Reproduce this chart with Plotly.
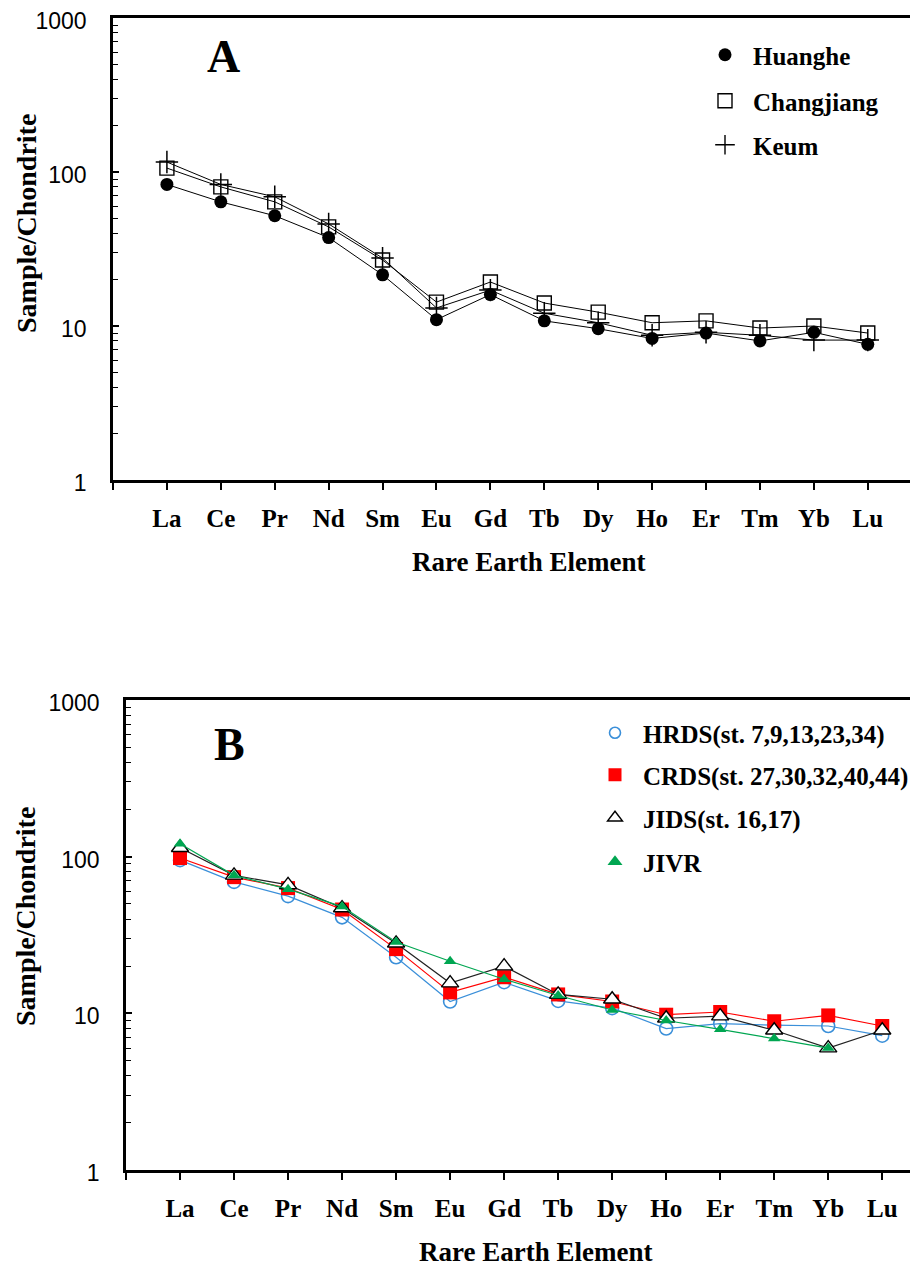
import plotly.graph_objects as go

elements = ["La", "Ce", "Pr", "Nd", "Sm", "Eu", "Gd", "Tb", "Dy", "Ho", "Er", "Tm", "Yb", "Lu"]

# Panel A
huanghe = [83, 64, 52, 37.5, 21.5, 11.0, 16.0, 10.8, 9.6, 8.3, 9.0, 8.0, 9.1, 7.6]
changjiang = [106, 80, 64, 44, 26.8, 14.3, 19.3, 14.1, 12.3, 10.5, 10.8, 9.7, 10.0, 9.0]
keum = [116, 83, 69, 46, 27.6, 13.1, 17.1, 12.1, 10.5, 8.7, 9.1, 8.7, 8.1, 8.1]

# Panel B
hrds = [95, 69, 56, 41, 22.8, 11.9, 15.8, 12.0, 10.8, 8.0, 8.6, 8.4, 8.3, 7.2]
crds = [98, 74, 63, 46, 25.7, 13.6, 17.0, 13.2, 11.9, 9.8, 10.2, 8.9, 9.7, 8.3]
jids = [114, 76, 66, 47, 28.0, 15.6, 20.0, 13.2, 12.3, 9.3, 9.6, 7.8, 6.0, 7.8]
jivr = [121, 76, 62, 48, 28.5, 21.5, 16.5, 13.0, 10.5, 9.0, 7.9, 6.9, 6.0, None]

ytickvals = [1, 10, 100, 1000]
yticktext = ["1", "10", "100", "1000"]
yminorvals = [m * d for d in (1, 10, 100) for m in range(2, 10)]

W, H = 918, 1269
OFF = 8  # page body margin offset
SERIF = "Liberation Serif"
SANS = "Liberation Sans"


def px(xp):
    return (xp - OFF) / W


def py(yp):
    return 1 - (yp - OFF) / H


xs = list(range(len(elements)))

fig = go.Figure()

BLUE = "#3A8FD9"
RED = "#FF0000"
GREEN = "#00A651"

# ---- Panel A traces ----
fig.add_trace(go.Scatter(x=xs, y=changjiang, mode="lines+markers", showlegend=False,
                         line=dict(color="black", width=1),
                         marker=dict(symbol="square-open", size=14, color="black", line=dict(width=1.4)),
                         xaxis="x", yaxis="y"))
fig.add_trace(go.Scatter(x=xs, y=huanghe, mode="lines+markers", showlegend=False,
                         line=dict(color="black", width=1),
                         marker=dict(symbol="circle", size=13, color="black"),
                         xaxis="x", yaxis="y"))
fig.add_trace(go.Scatter(x=xs, y=keum, mode="lines+markers", showlegend=False,
                         line=dict(color="black", width=1),
                         marker=dict(symbol="cross-thin", size=16, color="black", line=dict(width=1.5, color="black")),
                         xaxis="x", yaxis="y"))

# ---- Panel B traces ----
fig.add_trace(go.Scatter(x=xs, y=hrds, mode="lines+markers", showlegend=False,
                         line=dict(color=BLUE, width=1.2),
                         marker=dict(symbol="circle-open", size=13, color=BLUE, line=dict(width=1.6)),
                         xaxis="x2", yaxis="y2"))
fig.add_trace(go.Scatter(x=xs, y=crds, mode="lines+markers", showlegend=False,
                         line=dict(color=RED, width=1.2),
                         marker=dict(symbol="square", size=14, color=RED),
                         xaxis="x2", yaxis="y2"))
fig.add_trace(go.Scatter(x=xs, y=jids, mode="lines+markers", showlegend=False,
                         line=dict(color="#222222", width=1.2),
                         marker=dict(symbol="triangle-up", size=15, color="white", line=dict(width=1.4, color="black")),
                         xaxis="x2", yaxis="y2"))
fig.add_trace(go.Scatter(x=xs, y=jivr, mode="lines+markers", showlegend=False,
                         line=dict(color=GREEN, width=1.2),
                         marker=dict(symbol="triangle-up", size=11, color=GREEN),
                         xaxis="x2", yaxis="y2"))

# ---- Legend entries (marker only) ----
legA = [
    ("Huanghe", dict(symbol="circle", size=13, color="black"), 55),
    ("Changjiang", dict(symbol="square-open", size=14, color="black", line=dict(width=1.4)), 101),
    ("Keum", dict(symbol="cross-thin", size=14, color="black", line=dict(width=1.4, color="black")), 145),
]
legB = [
    ("HRDS(st. 7,9,13,23,34)", dict(symbol="circle-open", size=11, color=BLUE, line=dict(width=1.6)), 733),
    ("CRDS(st. 27,30,32,40,44)", dict(symbol="square", size=13, color=RED), 775),
    ("JIDS(st. 16,17)", dict(symbol="triangle-up-open", size=13, color="black", line=dict(width=1.4)), 818),
    ("JIVR", dict(symbol="triangle-up", size=13, color=GREEN), 862),
]

layout_legends = {}
n = 1
for group, mx in ((legA, 725), (legB, 615)):
    for name, mk, ypix in group:
        key = "legend" if n == 1 else f"legend{n}"
        ax = ("x", "y") if group is legA else ("x2", "y2")
        fig.add_trace(go.Scatter(x=[None], y=[None], mode="markers", name=name, marker=mk,
                                 showlegend=True, legend=key, xaxis=ax[0], yaxis=ax[1]))
        layout_legends[key] = dict(x=px(mx - 28), y=py(ypix), xanchor="left", yanchor="middle",
                                   bgcolor="rgba(0,0,0,0)", itemsizing="trace", itemwidth=46,
                                   borderwidth=0,
                                   font=dict(family=SERIF, size=25, color="black", weight="bold"))
        n += 1


def xaxis_cfg(left_px, right_units):
    return dict(
        domain=[px(left_px), 1.0],
        range=[-1, right_units],
        tickmode="array",
        tickvals=[-1] + xs,
        ticktext=[""] + elements,
        ticks="outside", ticklen=7, tickwidth=1.5, tickcolor="black",
        showline=True, linewidth=2.5, linecolor="black", mirror=True,
        showgrid=False, zeroline=False, automargin=False,
        tickfont=dict(family=SERIF, size=25, color="black", weight="bold"),
        ticklabelstandoff=7,
    )


def yaxis_cfg(top_px, bottom_px, anchor):
    return dict(
        type="log", range=[0, 3],
        domain=[py(bottom_px), py(top_px)],
        tickmode="array", tickvals=ytickvals, ticktext=yticktext,
        ticks="inside", ticklen=6, tickwidth=1.5, tickcolor="black",
        minor=dict(tickmode="array", tickvals=yminorvals, ticks="inside", ticklen=5,
                   tickwidth=1.2, tickcolor="black", showgrid=False),
        showline=True, linewidth=2.5, linecolor="black", mirror=False,
        showgrid=False, zeroline=False, automargin=False,
        ticklabeloverflow="allow",
        ticklabelshift=3,
        tickfont=dict(family=SANS, size=23, color="black"),
        ticklabelstandoff=19,
        anchor=anchor,
    )


fig.update_layout(
    width=W, height=H,
    template="none",
    margin=dict(l=0, r=0, t=0, b=0, autoexpand=False),
    paper_bgcolor="white", plot_bgcolor="white",
    xaxis=dict(**xaxis_cfg(113, 14.08), anchor="y"),
    yaxis=yaxis_cfg(18, 480, "x"),
    xaxis2=dict(**xaxis_cfg(126, 13.81), anchor="y2"),
    yaxis2=yaxis_cfg(700, 1170, "x2"),
    **layout_legends,
)

annots = [
    dict(text="A", x=px(223), y=py(57), font=dict(family=SERIF, size=46, weight="bold")),
    dict(text="B", x=px(229), y=py(745), font=dict(family=SERIF, size=46, weight="bold")),
    dict(text="Sample/Chondrite", x=px(26), y=py(224), textangle=-90,
         font=dict(family=SERIF, size=28, weight="bold")),
    dict(text="Sample/Chondrite", x=px(25), y=py(917), textangle=-90,
         font=dict(family=SERIF, size=28, weight="bold")),
    dict(text="Rare Earth Element", x=px(528), y=py(562),
         font=dict(family=SERIF, size=27, weight="bold")),
    dict(text="Rare Earth Element", x=px(535), y=py(1252),
         font=dict(family=SERIF, size=27, weight="bold")),
]
for a in annots:
    a.update(xref="paper", yref="paper", showarrow=False, xanchor="center", yanchor="middle")
    a["font"]["color"] = "black"
    fig.add_annotation(**a)

fig.write_html("out.html")
